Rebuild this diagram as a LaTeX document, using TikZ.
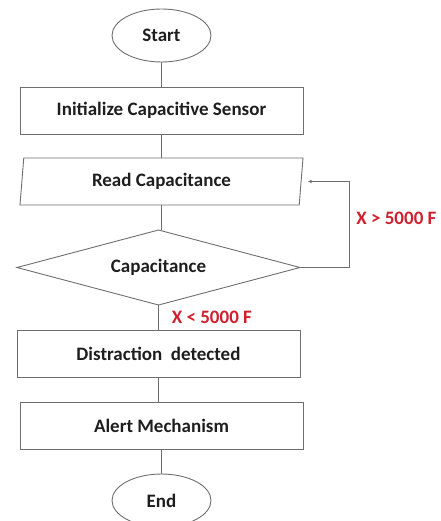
\documentclass[tikz,border=0pt]{standalone}
\usepackage{fontspec}
\setmainfont{Carlito}
\usetikzlibrary{positioning,shapes.geometric,arrows.meta}
\definecolor{edge}{HTML}{6E6E6E}
\definecolor{ink}{HTML}{1E1E1E}
\definecolor{cond}{HTML}{D0202E}

\begin{document}
\begin{tikzpicture}[x=1pt,y=-1pt,font=\fontsize{19}{22}\selectfont\bfseries,
  node distance=25pt,text=ink,every node/.style={outer sep=0pt},
  term/.style={draw=edge,ellipse,line width=0.9pt,minimum width=99pt,minimum height=53pt,inner sep=0pt},
  proc/.style={draw=edge,rectangle,line width=0.9pt,minimum width=283pt,minimum height=47pt,inner sep=0pt},
  io/.style={draw=edge,trapezium,trapezium left angle=77,trapezium right angle=103,trapezium stretches body,
    line width=0.9pt,minimum width=283pt,minimum height=47pt,inner sep=0pt},
  dec/.style={draw=edge,diamond,aspect=3.8,line width=0.9pt,minimum width=283pt,minimum height=75pt,inner sep=0pt},
  ln/.style={draw=edge,line width=0.8pt},
  lbl/.style={text=cond}]
  \useasboundingbox (0,0) rectangle (440,521);
  \node[term] (s) at (161.5,35.5) {Start};
  \node[proc,below=of s] (ini) {Initialize Capacitive Sensor};
  \node[io,below=24pt of ini] (rd) {Read Capacitance};
  \node[dec,below=of rd,xshift=-3pt] (cap) {Capacitance};
  \node[proc,below=of cap] (dd) {Distraction\ \ detected};
  \node[proc,below=of dd,xshift=3pt] (al) {Alert Mechanism};
  \node[term,below=of al] (e) {End};
  \draw[ln](s)--(ini);\draw[ln](ini)--(rd);\draw[ln](rd.south)--(rd.south|-cap.north);
  \draw[ln](cap.south)--node[lbl,right=10pt]{X < 5000 F}(dd.north);
  \draw[ln](dd.south)--(dd.south|-al.north);\draw[ln](al)--(e);
  \draw[ln,-{Stealth[length=4pt,width=3.5pt]},shorten >=7pt](cap.east)--++(49pt,0)
    |-node[lbl,pos=0.285,right=4pt]{X > 5000 F}(rd.east);
\end{tikzpicture}
\end{document}
